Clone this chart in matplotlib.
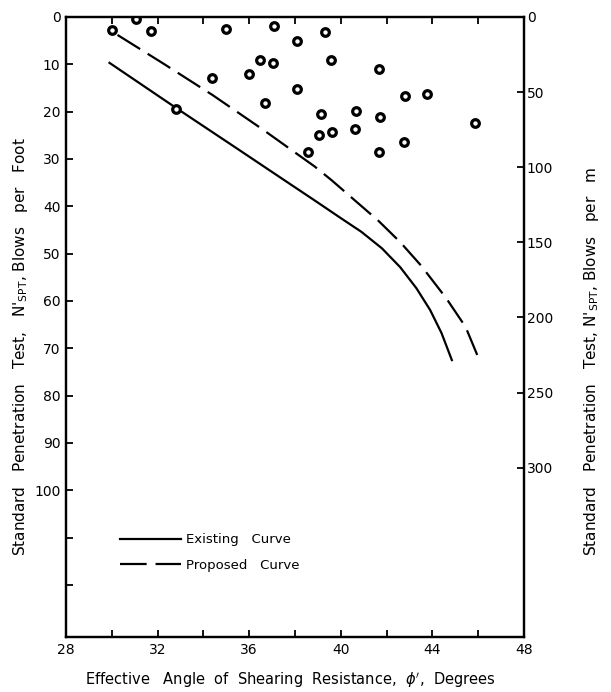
import matplotlib.pyplot as plt

# data
phi_pts = [30.0, 31.07, 31.73, 34.97, 37.08, 38.09, 39.3, 36.48, 37.04, 39.57,
           35.98, 34.36, 41.68, 38.1, 36.7, 32.82, 42.81, 43.78, 39.15, 40.68,
           41.71, 45.88, 39.05, 39.62, 40.64, 42.77, 38.57, 41.68]
n_pts = [2.7, 0.4, 2.9, 2.6, 1.9, 5.0, 3.2, 9.1, 9.8, 9.2,
         12.0, 12.9, 11.0, 15.2, 18.2, 19.4, 16.8, 16.3, 20.4, 19.8,
         21.2, 22.3, 24.9, 24.3, 23.6, 26.4, 28.6, 28.5]

phi_exist = [29.9, 32.8, 35.5, 37.6, 38.9, 40.0, 40.9, 41.8, 42.6, 43.3, 43.9, 44.4, 44.85]
n_exist = [9.7, 19.2, 27.9, 34.7, 38.9, 42.5, 45.4, 48.9, 52.9, 57.3, 61.9, 66.8, 72.5]

phi_prop = [30.25, 32.3, 34.4, 36.6, 38.86, 39.6, 40.6, 41.65, 42.6, 43.5, 44.6, 45.45, 46.0]
n_prop = [3.8, 10.0, 16.5, 23.8, 31.6, 34.5, 38.7, 43.1, 47.6, 52.5, 59.4, 65.5, 71.9]

x_ticks = [28, 30, 32, 34, 36, 38, 40, 42, 44, 46, 48]
x_labels = ['28', '', '32', '', '36', '', '40', '', '44', '', '48']
y_ticks = [0, 10, 20, 30, 40, 50, 60, 70, 80, 90, 100, 110, 120]
y_labels = ['0', '10', '20', '30', '40', '50', '60', '70', '80', '90', '100', '', '']
r_ticks = [0, 50, 100, 150, 200, 250, 300]

ft_to_m = 3.15
y_max = 131

fig = plt.figure(figsize=(6.11, 6.92), dpi=100)
ax = fig.add_axes([0.108, 0.0795, 0.7496, 0.896])

ax.plot(phi_exist, n_exist, color='black', lw=1.6, label='Existing   Curve')
ax.plot(phi_prop, n_prop, color='black', lw=1.6, linestyle=(0, (12, 4)),
        label='Proposed   Curve')
ax.plot(phi_pts, n_pts, 'o', ms=5.5, mfc='white', mec='black', mew=2.3,
        zorder=3)

ax.set_xlim(28, 48)
ax.set_ylim(y_max, 0)
ax.set_xticks(x_ticks)
ax.set_xticklabels(x_labels)
ax.set_yticks(y_ticks)
ax.set_yticklabels(y_labels)
ax.tick_params(direction='in', length=5, width=1.3, labelsize=10, top=True,
               pad=4)

ax2 = ax.twinx()
ax2.set_ylim(y_max * ft_to_m, 0)
ax2.set_yticks(r_ticks)
ax2.tick_params(direction='in', length=5, width=1.3, labelsize=10, pad=2)

for a in (ax, ax2):
    for s in a.spines.values():
        s.set_linewidth(1.6)

leg = ax.legend(loc='upper left', bbox_to_anchor=(0.118, 0.167), frameon=False,
                fontsize=9.5, handlelength=4.6, handletextpad=0.4,
                borderaxespad=0, borderpad=0, labelspacing=0.95)

fig.text(0.033, 0.499,
         r"Standard   Penetration   Test,   N$'_{\rm SPT}$, Blows   per   Foot",
         rotation=90, ha='center', va='center', fontsize=11)
fig.text(0.968, 0.478,
         r"Standard   Penetration   Test, N$'_{\rm SPT}$, Blows   per   m",
         rotation=90, ha='center', va='center', fontsize=11)
fig.text(0.475, 0.017,
         r"Effective   Angle  of  Shearing  Resistance,  $\phi'$,  Degrees",
         ha='center', va='center', fontsize=10.5)

fig.savefig('out.png', dpi=100)
